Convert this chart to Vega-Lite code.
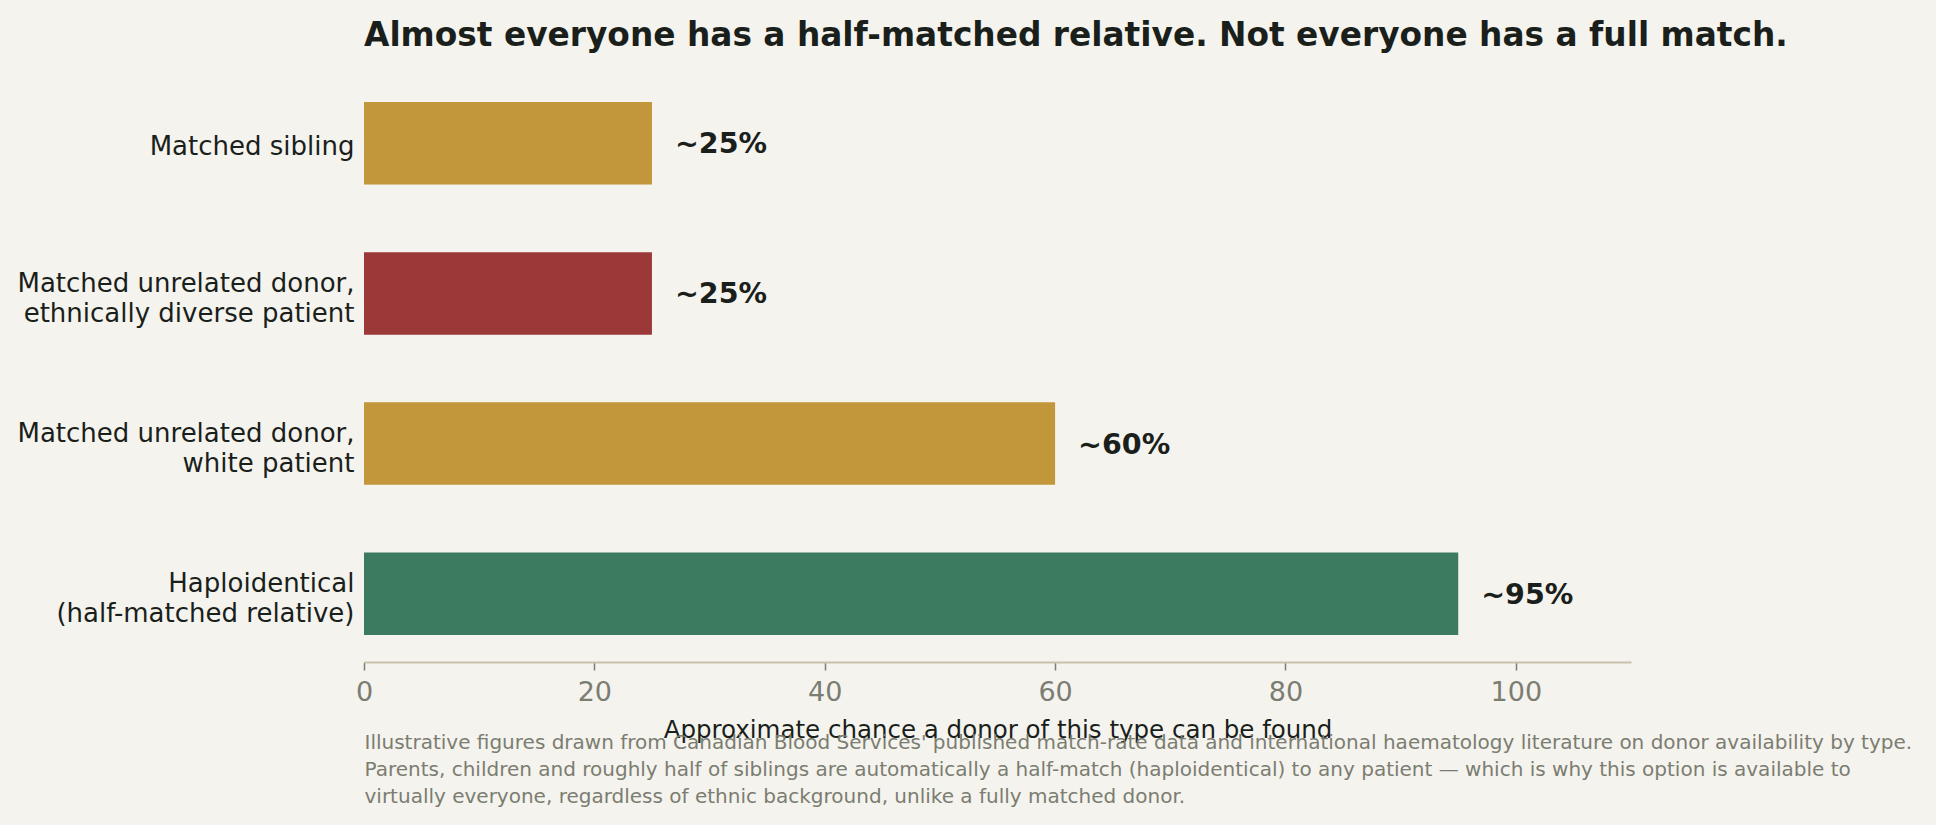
{
  "$schema": "https://vega.github.io/schema/vega-lite/v6.json",
  "autosize": "none",
  "width": 1267,
  "height": 587,
  "padding": {"left": 364, "top": 75, "right": 305, "bottom": 163},
  "background": "#f5f3ed",
  "title": {
    "text": "Almost everyone has a half-matched relative. Not everyone has a full match.",
    "anchor": "start",
    "frame": "group",
    "baseline": "alphabetic",
    "offset": -3.5,
    "font": "DejaVu Sans",
    "fontSize": 32.8,
    "fontWeight": "bold",
    "color": "#1a1f1c"
  },
  "config": {
    "view": {"stroke": null},
    "font": "DejaVu Sans"
  },
  "data": {
    "values": [
      {"option": "Matched sibling", "chance": 25, "label": "~25%"},
      {"option": "Matched unrelated donor, ethnically diverse patient", "chance": 25, "label": "~25%"},
      {"option": "Matched unrelated donor, white patient", "chance": 60, "label": "~60%"},
      {"option": "Haploidentical (half-matched relative)", "chance": 95, "label": "~95%"}
    ]
  },
  "encoding": {
    "y": {
      "field": "option",
      "type": "nominal",
      "sort": null,
      "scale": {"paddingInner": 0.45, "paddingOuter": 0.18},
      "axis": {
        "title": null,
        "domain": false,
        "ticks": false,
        "labelPadding": 10,
        "labelFontSize": 26,
        "labelColor": "#1a1f1c",
        "labelLineHeight": 30,
        "labelLimit": 400,
        "labelOffset": {"condition": {"test": "datum.value === 'Matched sibling'", "value": 4}, "value": -9.5},
        "labelExpr": "split(replace(replace(datum.label, ', ', ',|'), ' (', '|('), '|')"
      }
    }
  },
  "layer": [
    {
      "mark": {"type": "bar"},
      "encoding": {
        "x": {
          "field": "chance",
          "type": "quantitative",
          "scale": {"domain": [0, 110], "nice": false},
          "axis": {
            "orient": "bottom",
            "title": "Approximate chance a donor of this type can be found",
            "titleFontSize": 24.5,
            "titleFontWeight": "normal",
            "titleColor": "#1a1f1c",
            "titleBaseline": "alphabetic",
            "titleY": 75,
            "values": [0, 20, 40, 60, 80, 100],
            "grid": false,
            "domainColor": "#c8c2ad",
            "domainWidth": 2,
            "tickColor": "#7a7d72",
            "tickWidth": 1.5,
            "tickSize": 8,
            "labelFontSize": 27,
            "labelColor": "#7b7d72",
            "labelPadding": 9,
            "labelFlush": false
          }
        },
        "color": {
          "field": "option",
          "type": "nominal",
          "legend": null,
          "scale": {
            "domain": [
              "Matched sibling",
              "Matched unrelated donor, ethnically diverse patient",
              "Matched unrelated donor, white patient",
              "Haploidentical (half-matched relative)"
            ],
            "range": ["#c2963a", "#9b3939", "#c2963a", "#3c7b5f"]
          }
        }
      }
    },
    {
      "mark": {
        "type": "text",
        "align": "left",
        "baseline": "middle",
        "dx": 23,
        "dy": 1,
        "fontSize": 28.5,
        "fontWeight": "bold",
        "color": "#1a1f1c"
      },
      "encoding": {
        "x": {
          "field": "chance",
          "type": "quantitative",
          "axis": {
            "orient": "bottom",
            "title": [
              "Illustrative figures drawn from Canadian Blood Services' published match-rate data and international haematology literature on donor availability by type.",
              "Parents, children and roughly half of siblings are automatically a half-match (haploidentical) to any patient — which is why this option is available to",
              "virtually everyone, regardless of ethnic background, unlike a fully matched donor."
            ],
            "titleFontSize": 20,
            "titleFontWeight": "normal",
            "titleColor": "#7b7d72",
            "titleAlign": "left",
            "titleAnchor": "start",
            "titleBaseline": "alphabetic",
            "titleLineHeight": 27,
            "titleX": 0,
            "titleY": 86,
            "domain": false,
            "ticks": false,
            "labels": false,
            "grid": false
          }
        },
        "text": {"field": "label"}
      }
    }
  ],
  "resolve": {"axis": {"x": "independent"}}
}
